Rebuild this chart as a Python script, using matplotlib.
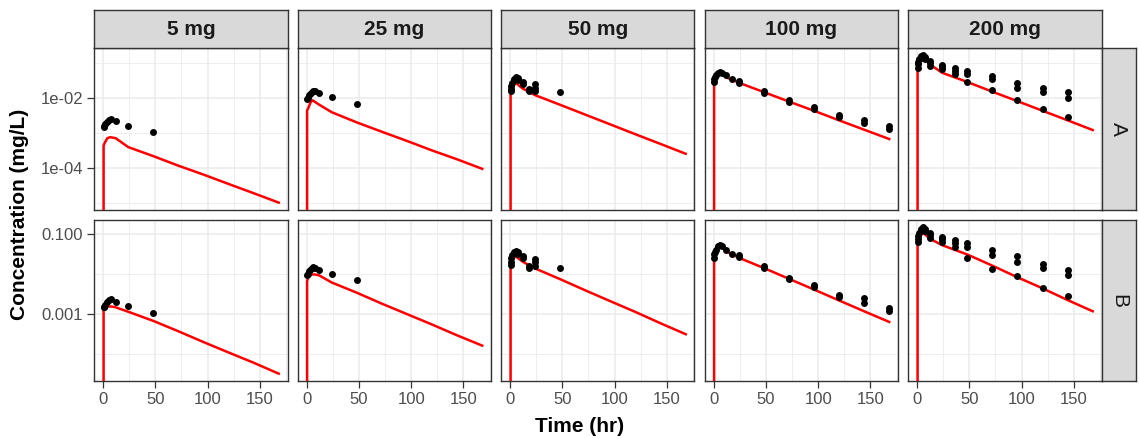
import matplotlib
matplotlib.use("Agg")
import matplotlib.pyplot as plt
from matplotlib.ticker import FixedLocator, FixedFormatter, NullFormatter
import numpy as np

plt.rcParams['font.family'] = ['Liberation Sans', 'DejaVu Sans']

# ---- facets -------------------------------------------------------------
doses = ["5 mg", "25 mg", "50 mg", "100 mg", "200 mg"]
analytes = ["A", "B"]

# ---- model predictions (mg/L) on a common time grid (hr) -----------------
pred_time = [0, 0.5, 1, 2, 4, 6, 8, 12, 24, 48, 72, 96, 120, 144, 168]

pred_5_A = [0, 4.4e-4, 4.8e-4, 5.6e-4, 7.1e-4, 7.6e-4, 7.6e-4, 7.2e-4, 4.0e-4, 2.2e-4, 1.17e-4, 6.5e-5, 3.5e-5, 1.9e-5, 1.02e-5]
pred_5_B = [0, 1.32e-3, 1.41e-3, 1.51e-3, 1.58e-3, 1.58e-3, 1.58e-3, 1.51e-3, 1.17e-3, 6.9e-4, 3.8e-4, 2.04e-4, 1.12e-4, 6.2e-5, 3.3e-5]
pred_25_A = [0, 4.5e-3, 4.8e-3, 5.6e-3, 7.9e-3, 8.7e-3, 7.9e-3, 6.6e-3, 4.0e-3, 2.04e-3, 1.10e-3, 6.0e-4, 3.2e-4, 1.78e-4, 9.5e-5]
pred_25_B = [0, 6.8e-3, 7.6e-3, 9.5e-3, 1.0e-2, 1.0e-2, 1.0e-2, 9.5e-3, 6.3e-3, 3.5e-3, 1.86e-3, 1.02e-3, 5.6e-4, 3.0e-4, 1.66e-4]
pred_50_A = [0, 1.23e-2, 1.51e-2, 2.0e-2, 2.57e-2, 2.69e-2, 2.40e-2, 1.91e-2, 1.23e-2, 6.5e-3, 3.4e-3, 1.78e-3, 9.3e-4, 4.9e-4, 2.57e-4]
pred_50_B = [0, 1.48e-2, 1.78e-2, 2.24e-2, 2.69e-2, 2.75e-2, 2.51e-2, 2.09e-2, 1.41e-2, 7.6e-3, 4.0e-3, 2.14e-3, 1.15e-3, 6.0e-4, 3.2e-4]
pred_100_A = [0, 2.69e-2, 3.3e-2, 4.4e-2, 5.5e-2, 5.75e-2, 5.0e-2, 4.0e-2, 2.82e-2, 1.51e-2, 8.1e-3, 4.4e-3, 2.34e-3, 1.26e-3, 6.8e-4]
pred_100_B = [0, 2.40e-2, 3.16e-2, 4.4e-2, 5.5e-2, 5.75e-2, 5.0e-2, 3.8e-2, 2.63e-2, 1.45e-2, 7.8e-3, 4.2e-3, 2.24e-3, 1.20e-3, 6.5e-4]
pred_200_A = [0, 7.9e-2, 0.100, 0.126, 0.155, 0.158, 0.132, 9.5e-2, 5.4e-2, 2.95e-2, 1.55e-2, 8.3e-3, 4.4e-3, 2.34e-3, 1.23e-3]
pred_200_B = [0, 5.1e-2, 6.6e-2, 8.5e-2, 0.102, 0.107, 9.8e-2, 7.9e-2, 5.4e-2, 3.16e-2, 1.66e-2, 8.5e-3, 4.5e-3, 2.29e-3, 1.20e-3]

# ---- observed concentrations (mg/L) --------------------------------------
obs_time_5 = [0.5, 1, 2, 4, 6, 8, 12, 24, 48]
obs_time_25 = [0.5, 1, 2, 4, 6, 8, 12, 24, 48]
obs_time_50 = [0.5, 0.5, 1, 2, 4, 6, 8, 8, 12, 12, 18, 18, 24, 24, 24, 48]
obs_time_100 = [0.5, 0.5, 1, 2, 4, 6, 8, 12, 18, 24, 24, 48, 48, 72, 72,
                96, 96, 120, 120, 144, 144, 168, 168]
obs_time_200 = [0.5, 0.5, 1, 2, 4, 6, 6, 8, 8, 12, 12, 12, 24, 24, 24,
                36, 36, 36, 48, 48, 48, 72, 72, 72, 96, 96, 96,
                120, 120, 120, 144, 144, 144]

obs_5_A = [1.51e-3, 1.66e-3, 1.82e-3, 2.09e-3, 2.40e-3, 2.51e-3, 2.19e-3, 1.58e-3, 1.10e-3]
obs_5_B = [1.51e-3, 1.58e-3, 1.74e-3, 2.00e-3, 2.24e-3, 2.40e-3, 2.09e-3, 1.66e-3, 1.10e-3]
obs_25_A = [9.5e-3, 1.05e-2, 1.26e-2, 1.45e-2, 1.62e-2, 1.58e-2, 1.38e-2, 1.10e-2, 7.1e-3]
obs_25_B = [9.5e-3, 1.05e-2, 1.20e-2, 1.38e-2, 1.51e-2, 1.45e-2, 1.26e-2, 1.05e-2, 7.1e-3]
obs_50_A = [1.58e-2, 1.91e-2, 2.29e-2, 2.82e-2, 3.47e-2, 3.98e-2, 3.80e-2, 3.39e-2,
            3.02e-2, 2.51e-2, 1.91e-2, 1.66e-2, 2.51e-2, 2.00e-2, 1.58e-2, 1.48e-2]
obs_50_B = [1.74e-2, 2.09e-2, 2.51e-2, 3.02e-2, 3.55e-2, 3.80e-2, 3.63e-2, 3.31e-2,
            2.95e-2, 2.51e-2, 1.66e-2, 1.41e-2, 2.40e-2, 2.00e-2, 1.66e-2, 1.48e-2]
obs_100_A = [2.95e-2, 3.55e-2, 3.98e-2, 4.68e-2, 5.25e-2, 5.75e-2, 5.37e-2, 4.68e-2,
             3.47e-2, 3.16e-2, 2.75e-2, 1.58e-2, 1.41e-2, 8.7e-3, 7.9e-3,
             5.75e-3, 4.9e-3, 3.31e-3, 2.82e-3, 2.45e-3, 1.91e-3, 1.58e-3, 1.29e-3]
obs_100_B = [2.63e-2, 3.16e-2, 3.55e-2, 4.17e-2, 5.01e-2, 5.50e-2, 5.01e-2, 3.98e-2,
             3.16e-2, 3.02e-2, 2.75e-2, 1.62e-2, 1.48e-2, 8.3e-3, 7.8e-3,
             5.5e-3, 4.9e-3, 3.09e-3, 2.75e-3, 2.51e-3, 1.91e-3, 1.48e-3, 1.23e-3]
obs_200_A = [7.6e-2, 9.5e-2, 0.112, 0.138, 0.166, 0.174, 0.148, 0.158, 0.132,
             0.120, 0.100, 8.3e-2, 9.3e-2, 8.1e-2, 7.1e-2, 7.4e-2, 6.0e-2, 5.0e-2,
             5.9e-2, 5.0e-2, 2.95e-2, 4.27e-2, 3.63e-2, 1.70e-2, 2.82e-2, 2.00e-2, 9.1e-3,
             1.95e-2, 1.48e-2, 4.8e-3, 1.48e-2, 1.00e-2, 3.0e-3]
obs_200_B = [6.3e-2, 7.9e-2, 8.9e-2, 0.112, 0.138, 0.151, 0.126, 0.141, 0.120,
             0.112, 9.5e-2, 8.3e-2, 8.7e-2, 7.6e-2, 6.3e-2, 7.4e-2, 6.0e-2, 4.8e-2,
             6.0e-2, 5.0e-2, 2.63e-2, 3.98e-2, 3.02e-2, 1.38e-2, 2.82e-2, 2.09e-2, 9.1e-3,
             1.82e-2, 1.45e-2, 4.6e-3, 1.32e-2, 9.5e-3, 2.82e-3]

pred = {
    "A": [pred_5_A, pred_25_A, pred_50_A, pred_100_A, pred_200_A],
    "B": [pred_5_B, pred_25_B, pred_50_B, pred_100_B, pred_200_B],
}
obs_time = [obs_time_5, obs_time_25, obs_time_50, obs_time_100, obs_time_200]
obs = {
    "A": [obs_5_A, obs_25_A, obs_50_A, obs_100_A, obs_200_A],
    "B": [obs_5_B, obs_25_B, obs_50_B, obs_100_B, obs_200_B],
}

x_ticks = [0, 50, 100, 150]
x_minor = [25, 75, 125, 175]
y_ticks = {"A": [1e-4, 1e-2], "B": [1e-3, 1e-1]}
y_ticklabels = {"A": ["1e-04", "1e-02"], "B": ["0.001", "0.100"]}
y_minor = {"A": [1e-5, 1e-3, 1e-1], "B": [1e-4, 1e-2]}

# ---- layout (pixel based) --------------------------------------------------
W, H = 1139, 438
fig = plt.figure(figsize=(W / 100, H / 100), dpi=100)


def rect(x0, y0, x1, y1):
    return [x0 / W, 1 - y1 / H, (x1 - x0) / W, (y1 - y0) / H]


col_left = [94.3, 297.8, 501.3, 704.8, 908.3]
col_w = 193.2
row_y = {"A": (47.7, 210.0), "B": (220.0, 381.0)}
strip_top = 10.0
strip_right = (1101.5, 1136.0)

border = "#333333"
grid_col = "#EBEBEB"
strip_fill = "#D9D9D9"
tick_col = "#4D4D4D"


def log_limits(arrays):
    vals = np.concatenate([np.asarray(a, float) for a in arrays])
    vals = np.log10(vals[vals > 0])
    lo, hi = vals.min(), vals.max()
    pad = 0.05 * (hi - lo)
    return 10 ** (lo - pad), 10 ** (hi + pad)


t_all = np.concatenate([pred_time] + obs_time)
xr = t_all.max() - t_all.min()
xlim = (t_all.min() - 0.05 * xr, t_all.max() + 0.05 * xr)

for r, an in enumerate(analytes):
    ylim = log_limits(pred[an] + obs[an])
    y0, y1 = row_y[an]
    for c, dose in enumerate(doses):
        x0 = col_left[c]
        ax = fig.add_axes(rect(x0, y0, x0 + col_w, y1))
        ax.set_yscale("log", nonpositive="clip")
        ax.set_xlim(*xlim)
        ax.set_ylim(*ylim)

        ax.xaxis.set_major_locator(FixedLocator(x_ticks))
        ax.xaxis.set_minor_locator(FixedLocator(x_minor))
        ax.yaxis.set_major_locator(FixedLocator(y_ticks[an]))
        ax.yaxis.set_minor_locator(FixedLocator(y_minor[an]))
        ax.yaxis.set_minor_formatter(NullFormatter())
        ax.grid(True, which="major", color=grid_col, linewidth=1.1, zorder=0)
        ax.grid(True, which="minor", color=grid_col, linewidth=0.6, zorder=0)
        ax.set_axisbelow(True)

        ax.plot(pred_time, pred[an][c], color="red", linewidth=1.8,
                zorder=3, solid_joinstyle="miter")
        ax.scatter(obs_time[c], obs[an][c], s=25, color="black",
                   linewidths=0, zorder=4)

        for sp in ax.spines.values():
            sp.set_color(border)
            sp.set_linewidth(1.0)

        ax.tick_params(which="minor", length=0)
        ax.tick_params(which="major", length=5, width=0.9, color=border,
                       labelcolor=tick_col, labelsize=12)
        ax.tick_params(axis="y", pad=3)
        ax.tick_params(axis="x", pad=3)

        if c == 0:
            ax.yaxis.set_major_formatter(FixedFormatter(y_ticklabels[an]))
        else:
            ax.yaxis.set_major_formatter(NullFormatter())
            ax.tick_params(axis="y", which="major", length=0)
        if r == len(analytes) - 1:
            ax.xaxis.set_major_formatter(FixedFormatter([str(v) for v in x_ticks]))
        else:
            ax.xaxis.set_major_formatter(NullFormatter())
            ax.tick_params(axis="x", which="major", length=0)

        # top strip with dose label
        if r == 0:
            sax = fig.add_axes(rect(x0, strip_top, x0 + col_w, y0))
            sax.set_facecolor(strip_fill)
            sax.set_xticks([]); sax.set_yticks([])
            for sp in sax.spines.values():
                sp.set_color(border); sp.set_linewidth(1.0)
            sax.text(0.5, 0.47, dose, ha="center", va="center",
                     fontsize=15, fontweight="bold", color="#1A1A1A",
                     transform=sax.transAxes)

    # right strip with analyte label
    rax = fig.add_axes(rect(strip_right[0], y0, strip_right[1], y1))
    rax.set_facecolor(strip_fill)
    rax.set_xticks([]); rax.set_yticks([])
    for sp in rax.spines.values():
        sp.set_color(border); sp.set_linewidth(1.0)
    rax.text(0.5, 0.5, an, ha="center", va="center", rotation=270,
             fontsize=15, color="#1A1A1A", transform=rax.transAxes)

fig.text(580 / W, 1 - 426 / H, "Time (hr)", ha="center", va="center",
         fontsize=15, fontweight="bold")
fig.text(20 / W, 1 - 214 / H, "Concentration (mg/L)", ha="center",
         va="center", rotation=90, fontsize=15, fontweight="bold")

fig.savefig("out.png", dpi=100, facecolor="white")
